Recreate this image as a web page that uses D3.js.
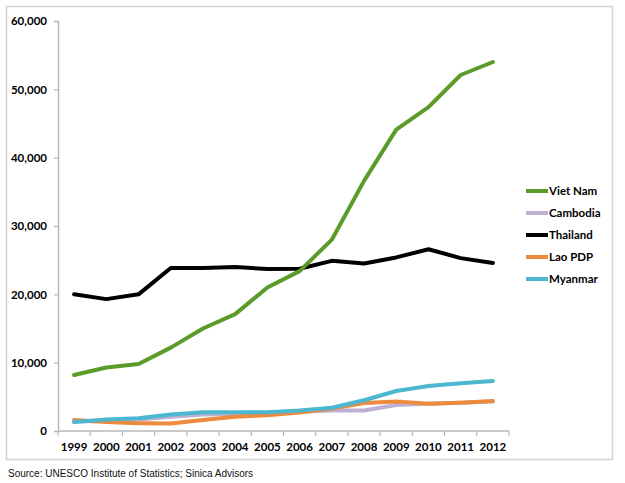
<!DOCTYPE html>
<html>
<head>
<meta charset="utf-8">
<script src="https://cdn.jsdelivr.net/npm/d3@7"></script>
<style>
  body { margin: 0; background: #fff; }
  text { font-family: "Lato", "Liberation Sans", sans-serif; }
</style>
</head>
<body>
<svg id="chart" width="625" height="483"></svg>
<script>
// data
var years = ["1999","2000","2001","2002","2003","2004","2005","2006","2007","2008","2009","2010","2011","2012"];
var vietNam  = [8200, 9300, 9800, 12200, 15000, 17100, 21000, 23400, 28000, 36600, 44100, 47400, 52100, 54000];
var cambodia = [1400, 1500, 1700, 2100, 2400, 2500, 2600, 2800, 3000, 3000, 3800, 4000, 4150, 4300];
var thailand = [20000, 19300, 20000, 23850, 23850, 24000, 23700, 23750, 24900, 24500, 25400, 26600, 25300, 24600];
var laoPDP   = [1600, 1300, 1150, 1100, 1600, 2100, 2300, 2700, 3300, 4100, 4300, 4000, 4150, 4400];
var myanmar  = [1300, 1700, 1850, 2400, 2750, 2750, 2750, 3000, 3400, 4500, 5850, 6600, 7000, 7300];
var yTicks = [0, 10000, 20000, 30000, 40000, 50000, 60000];

var series = [
  {name: "Viet Nam", values: vietNam,  color: "#5a9b2a"},
  {name: "Cambodia", values: cambodia, color: "#bdb0d4"},
  {name: "Thailand", values: thailand, color: "#000000"},
  {name: "Lao PDP",  values: laoPDP,   color: "#ec8a3d"},
  {name: "Myanmar",  values: myanmar,  color: "#4db7cf"}
];
// draw order: light ones under
var drawOrder = ["Cambodia", "Lao PDP", "Myanmar", "Thailand", "Viet Nam"];

var svg = d3.select("#chart");

// outer frame
svg.append("rect")
  .attr("x", 6.5).attr("y", 6.5)
  .attr("width", 606).attr("height", 453)
  .attr("fill", "none")
  .attr("stroke", "#d3d3d3")
  .attr("stroke-width", 1.5);

var x = d3.scaleBand().domain(years).range([58, 509]).padding(0);
var y = d3.scaleLinear().domain([0, 60000]).range([431, 21]);

// y axis
var yAxis = svg.append("g")
  .attr("transform", "translate(58,0)")
  .call(d3.axisLeft(y).tickValues(yTicks).tickSize(4).tickPadding(7).tickFormat(d3.format(",")));
yAxis.select(".domain").attr("stroke", "#b8b8b8").attr("stroke-width", 1.5);
yAxis.selectAll(".tick line").attr("stroke", "#b8b8b8").attr("stroke-width", 1.2);
yAxis.selectAll(".tick text")
  .attr("fill", "#000")
  .style("font-size", "11.5px")
  .style("font-weight", "bold");

// x axis, ticks between categories
var xAxis = svg.append("g").attr("transform", "translate(0,431)");
xAxis.append("line")
  .attr("x1", 58).attr("x2", 509)
  .attr("stroke", "#b8b8b8").attr("stroke-width", 1.5);
xAxis.selectAll("line.tk")
  .data(years.concat(["end"]))
  .enter().append("line")
  .attr("class", "tk")
  .attr("x1", function(d) { return d == "end" ? x.range()[1] : x(d); })
  .attr("x2", function(d) { return d == "end" ? x.range()[1] : x(d); })
  .attr("y1", 0).attr("y2", 5)
  .attr("stroke", "#b8b8b8").attr("stroke-width", 1.2);
xAxis.selectAll("text")
  .data(years)
  .enter().append("text")
  .attr("x", function(d) { return x(d) + x.bandwidth() / 2; })
  .attr("y", 20)
  .attr("text-anchor", "middle")
  .style("font-size", "11.5px")
  .style("font-weight", "bold")
  .text(function(d) { return d; });

// lines
var line = d3.line()
  .x(function(d, i) { return x(years[i]) + x.bandwidth() / 2; })
  .y(function(d) { return y(d); });

svg.append("g")
  .selectAll("path")
  .data(drawOrder.map(function(n) { return series.find(function(s) { return s.name == n; }); }))
  .enter().append("path")
  .attr("d", function(d) { return line(d.values); })
  .attr("fill", "none")
  .attr("stroke", function(d) { return d.color; })
  .attr("stroke-width", 4)
  .attr("stroke-linejoin", "round")
  .attr("stroke-linecap", "round");

// legend
var legend = svg.append("g")
  .selectAll("g")
  .data(series)
  .enter().append("g")
  .attr("transform", function(d, i) { return "translate(526," + (191 + i * 22) + ")"; });

legend.append("line")
  .attr("x1", 0).attr("x2", 22)
  .attr("stroke", function(d) { return d.color; })
  .attr("stroke-width", 4);

legend.append("text")
  .attr("x", 23)
  .attr("y", 4)
  .style("font-size", "11.5px")
  .style("font-weight", "bold")
  .text(function(d) { return d.name; });

// source note
svg.append("text")
  .attr("x", 8)
  .attr("y", 477)
  .style("font-family", "'Liberation Sans', Arial, sans-serif")
  .style("font-size", "10px")
  .attr("fill", "#111")
  .text("Source: UNESCO Institute of Statistics; Sinica Advisors");
</script>
</body>
</html>
